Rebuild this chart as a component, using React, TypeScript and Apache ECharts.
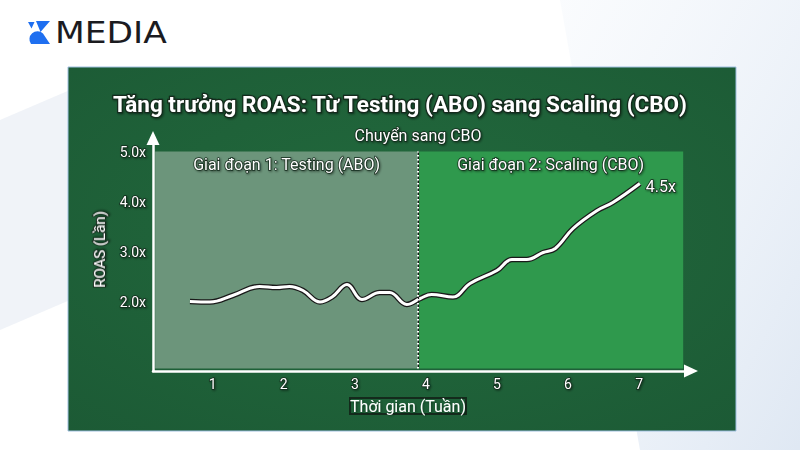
import React, { useEffect, useRef } from "react";
import * as echarts from "echarts";

const titleText = "Tăng trưởng ROAS: Từ Testing (ABO) sang Scaling (CBO)";
const weeks = [0.68, 0.96, 1.28, 1.66, 1.9, 2.08, 2.27, 2.51, 2.68, 2.89, 3.1, 3.35, 3.49, 3.73, 3.92, 4.08, 4.38, 4.62, 5.0, 5.21, 5.42, 5.65, 5.82, 6.07, 6.41, 6.63, 7.01];
const roas = [2.0, 1.99, 2.12, 2.3, 2.28, 2.3, 2.22, 1.99, 2.09, 2.34, 2.04, 2.18, 2.18, 1.94, 2.06, 2.14, 2.09, 2.36, 2.62, 2.84, 2.84, 2.98, 3.06, 3.46, 3.82, 3.98, 4.36];
const xTicks = [1, 2, 3, 4, 5, 6, 7];
const yTicks = [2, 3, 4, 5];
const phases = [
  { name: "Giai đoạn 1: Testing (ABO)", from: 0.19, to: 3.89, color: "#6c957b" },
  { name: "Giai đoạn 2: Scaling (CBO)", from: 3.89, to: 7.62, color: "#2f994d" },
];
const switchWeek = 3.89;
const switchLabel = "Chuyển sang CBO";
const endLabelText = "4.5x";
const yName = "ROAS (Lần)";
const xName = "Thời gian (Tuần)";

const outline = {
  textBorderColor: "#142a1c",
  textBorderWidth: 2,
  textShadowColor: "rgba(0,0,0,0.45)",
  textShadowBlur: 2,
  textShadowOffsetX: 1,
  textShadowOffsetY: 1,
};

const iconPath = "M8 0 H22 L12.5 11 Z M0 1 H6.5 L3.5 7.5 Z M3 23 A8 8 0 0 1 15 12.5 L22 23 Z";

export default function App() {
  const ref = useRef<HTMLDivElement>(null);
  useEffect(() => {
    if (!ref.current) return;
    echarts.graphic.registerShape("kicon", echarts.graphic.extendPath(iconPath, {}) as any);
    const chart = echarts.init(ref.current, null, { renderer: "svg" });
    const data = weeks.map((w, i) => [w, roas[i]]);
    const font = "Roboto";
    chart.setOption({
      animation: false,
      backgroundColor: "#ffffff",
      textStyle: { fontFamily: font },
      title: {
        text: titleText,
        left: "center",
        top: 87,
        textStyle: { color: "#ffffff", fontSize: 22.5, fontWeight: "bold", fontFamily: font, ...outline, textBorderWidth: 2.5 },
      },
      graphic: [
        {
          type: "polygon",
          z: -20,
          silent: true,
          shape: { points: [[560, 0], [800, 0], [800, 450], [640, 450]] },
          style: { fill: new echarts.graphic.LinearGradient(0, 0, 1, 1, [
            { offset: 0, color: "rgba(230,238,248,0.2)" },
            { offset: 1, color: "rgba(215,226,240,0.8)" },
          ]) },
        },
        {
          type: "polygon",
          z: -20,
          silent: true,
          shape: { points: [[0, 120], [70, 90], [70, 300], [0, 330]] },
          style: { fill: "rgba(225,232,242,0.5)" },
        },
        {
          type: "rect",
          z: -10,
          silent: true,
          shape: { x: 68, y: 67, width: 668, height: 364 },
          style: {
            fill: new echarts.graphic.RadialGradient(0.5, 0.45, 0.75, [
              { offset: 0, color: "#226a3d" },
              { offset: 1, color: "#1c5a35" },
            ]),
            stroke: "#9fbfe0",
            lineWidth: 1,
          },
        },
        {
          type: "kicon",
          x: 28,
          y: 21,
          style: { fill: "#1f6ff0" },
        },
        {
          type: "text",
          x: 55,
          y: 33,
          scaleX: 1.15,
          style: {
            text: "MEDIA",
            fill: "#1b1b1f",
            fontSize: 30,
            fontWeight: 500,
            fontFamily: "DejaVu Sans",
            verticalAlign: "middle",
          },
        },
        {
          type: "text",
          x: 408,
          y: 406,
          style: {
            text: xName,
            fill: "#ffffff",
            fontSize: 16,
            fontFamily: font,
            align: "center",
            verticalAlign: "middle",
            ...outline,
          },
        },
      ],
      grid: { left: 153, right: 109, top: 138, bottom: 79 },
      xAxis: {
        type: "value",
        min: 0.16,
        max: 7.73,
        z: 10,
        splitLine: { show: false },
        axisTick: { show: false },
        axisLine: {
          show: true,
          symbol: ["none", "triangle"],
          symbolSize: [13, 14],
          lineStyle: { color: "#ffffff", width: 2.5 },
        },
        axisLabel: {
          customValues: xTicks,
          color: "#ffffff",
          fontSize: 14,
          margin: 6,
          ...outline,
          textBorderWidth: 1.5,
        },
      },
      yAxis: {
        type: "value",
        min: 0.61,
        max: 5.27,
        z: 10,
        name: yName,
        nameLocation: "middle",
        nameGap: 45,
        nameRotate: 90,
        nameTextStyle: { color: "#ffffff", fontSize: 15, ...outline, padding: [0, 0, 0, 10] },
        splitLine: { show: false },
        axisTick: { show: false },
        axisLine: {
          show: true,
          symbol: ["none", "triangle"],
          symbolSize: [13, 14],
          lineStyle: { color: "#ffffff", width: 2.5 },
        },
        axisLabel: {
          customValues: yTicks,
          formatter: (v: number) => v.toFixed(1) + "x",
          color: "#ffffff",
          fontSize: 14,
          margin: 7,
          ...outline,
          textBorderWidth: 1.5,
        },
      },
      series: [
        {
          type: "line",
          data,
          smooth: 0.4,
          symbol: "none",
          silent: true,
          z: 3,
          lineStyle: { color: "#1a1a1a", width: 5.5 },
          markArea: {
            silent: true,
            data: phases.map((p) => [
              {
                xAxis: p.from,
                yAxis: 0.66,
                itemStyle: { color: p.color },
                label: {
                  show: true,
                  formatter: p.name,
                  position: "insideTop",
                  distance: 5,
                  color: "#ffffff",
                  fontSize: 16,
                  fontFamily: font,
                  ...outline,
                  textBorderWidth: 1.5,
                },
              },
              { xAxis: p.to, yAxis: 5 },
            ]),
          },
          markLine: {
            silent: true,
            symbol: "none",
            lineStyle: { color: "#1a1a1a", type: "solid", width: 1.2 },
            label: { show: false },
            data: [[{ coord: [switchWeek, 0.66] }, { coord: [switchWeek, 5.0] }]],
          },
        },
        {
          type: "line",
          data,
          smooth: 0.4,
          symbol: "none",
          silent: true,
          z: 4,
          lineStyle: { color: "#ffffff", width: 3 },
          endLabel: {
            show: true,
            formatter: endLabelText,
            color: "#ffffff",
            fontSize: 16,
            distance: 6,
            offset: [0, 3],
            ...outline,
            textBorderWidth: 1.5,
          },
          markLine: {
            silent: true,
            symbol: "none",
            lineStyle: { color: "#ffffff", type: [1.5, 2.5], width: 2 },
            label: {
              show: true,
              position: "end",
              formatter: switchLabel,
              color: "#ffffff",
              fontSize: 16,
              distance: 8,
              ...outline,
              textBorderWidth: 1.5,
            },
            data: [[{ coord: [switchWeek, 0.66] }, { coord: [switchWeek, 5.0] }]],
          },
        },
      ],
    });
    return () => chart.dispose();
  }, []);
  return <div ref={ref} style={{ position: "fixed", left: 0, top: 0, width: 800, height: 450 }} />;
}
